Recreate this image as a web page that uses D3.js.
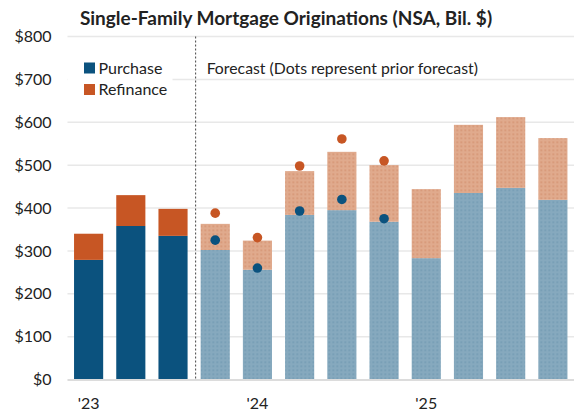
<!DOCTYPE html>
<meta charset="utf-8">
<script src="https://d3js.org/d3.v7.min.js"></script>
<style>
  body { margin: 0; background: #fff; }
  text { font-family: Lato, "Noto Sans", sans-serif; fill: #222; }
</style>
<body>
<div id="chart"></div>
<script>

// quarters, 2023 Q1 .. 2025 Q4
var quarters = ["23Q1","23Q2","23Q3","23Q4","24Q1","24Q2","24Q3","24Q4","25Q1","25Q2","25Q3","25Q4"];
var purchase = [279, 358, 335, 302, 256, 384, 395, 368, 283, 435, 447, 419];
var refinance = [61, 72, 63, 61, 68, 102, 136, 132, 161, 159, 165, 144];
var isForecast = [false, false, false, true, true, true, true, true, true, true, true, true];
// prior forecast (dots)
var priorPurchase = [null, null, null, 325, 260, 393, 420, 375, null, null, null, null];
var priorTotal = [null, null, null, 388, 331, 498, 561, 510, null, null, null, null];
var yearLabels = {"23Q1": "'23", "24Q1": "'24", "25Q1": "'25"};
var yTicks = [0, 100, 200, 300, 400, 500, 600, 700, 800];

var W = 581, H = 410;
var margin = {top: 36.5, right: 7, bottom: 30.5, left: 67.5};
var width = W - margin.left - margin.right,
    height = H - margin.top - margin.bottom;

var cBlue = "#0b527e", cOrange = "#c75624";

var svg = d3.select("#chart").append("svg")
    .attr("width", W)
    .attr("height", H);

// patterns for forecast bars
var defs = svg.append("defs");
function dotPattern(id, base, dot) {
  var p = defs.append("pattern")
      .attr("id", id)
      .attr("patternUnits", "userSpaceOnUse")
      .attr("width", 4).attr("height", 4);
  p.append("rect").attr("width", 4).attr("height", 4).attr("fill", base);
  p.append("rect").attr("x", 1).attr("y", 1).attr("width", 1.5).attr("height", 1.5).attr("fill", dot);
}
dotPattern("patBlue", "#86a9be", "#6f98b1");
dotPattern("patOrange", "#e0aa8d", "#d38f6d");

var g = svg.append("g")
    .attr("transform", "translate(" + margin.left + "," + margin.top + ")");

var x = d3.scaleBand()
    .domain(quarters)
    .range([0, width])
    .paddingInner(0.31)
    .paddingOuter(0.155);

var y = d3.scaleLinear()
    .domain([0, 800])
    .range([height, 0]);

// gridlines
g.append("g")
  .selectAll("line")
  .data(yTicks.filter(function(d) { return d > 0; }))
  .join("line")
    .attr("x1", 0).attr("x2", width)
    .attr("y1", function(d) { return y(d); })
    .attr("y2", function(d) { return y(d); })
    .attr("stroke", "#e8e8e8")
    .attr("stroke-width", 1.5);

// y labels
var yAxis = g.append("g")
    .call(d3.axisLeft(y).tickValues(yTicks).tickSize(0).tickPadding(16)
      .tickFormat(function(d) { return "$" + d; }));
yAxis.select(".domain").remove();
yAxis.selectAll("text")
    .style("font-size", "16px")
    .style("font-family", "Lato, sans-serif")
    .attr("fill", "#222");

// legend backdrop hides grid
g.append("rect")
    .attr("x", 0).attr("y", 20)
    .attr("width", 105).attr("height", 44)
    .attr("fill", "#fff");

// bars
var bars = g.append("g").selectAll("g")
  .data(quarters)
  .join("g");

bars.append("rect")
    .attr("x", function(d) { return x(d); })
    .attr("width", x.bandwidth())
    .attr("y", function(d, i) { return y(purchase[i]); })
    .attr("height", function(d, i) { return height - y(purchase[i]); })
    .attr("fill", function(d, i) { return isForecast[i] ? "url(#patBlue)" : cBlue; });

bars.append("rect")
    .attr("x", function(d) { return x(d); })
    .attr("width", x.bandwidth())
    .attr("y", function(d, i) { return y(purchase[i] + refinance[i]); })
    .attr("height", function(d, i) { return y(purchase[i]) - y(purchase[i] + refinance[i]); })
    .attr("fill", function(d, i) { return isForecast[i] ? "url(#patOrange)" : cOrange; });

// baseline
g.append("line")
    .attr("x1", 0).attr("x2", width)
    .attr("y1", height + 0.5).attr("y2", height + 0.5)
    .attr("stroke", "#dcdcdc")
    .attr("stroke-width", 2);

// forecast divider
var divX = (x(quarters[2]) + x.bandwidth() + x(quarters[3])) / 2 + 1.5;
g.append("line")
    .attr("x1", divX).attr("x2", divX)
    .attr("y1", 0).attr("y2", height)
    .attr("stroke", "#444")
    .attr("stroke-width", 1)
    .attr("stroke-dasharray", "2,2");

// prior forecast dots
g.append("g").selectAll("circle")
  .data(quarters.filter(function(d, i) { return priorTotal[i] != null; }))
  .join("circle")
    .attr("cx", function(d) { return x(d) + x.bandwidth() / 2; })
    .attr("cy", function(d) { return y(priorTotal[quarters.indexOf(d)]); })
    .attr("r", 4.8)
    .attr("fill", cOrange);

g.append("g").selectAll("circle")
  .data(quarters.filter(function(d, i) { return priorPurchase[i] != null; }))
  .join("circle")
    .attr("cx", function(d) { return x(d) + x.bandwidth() / 2; })
    .attr("cy", function(d) { return y(priorPurchase[quarters.indexOf(d)]); })
    .attr("r", 4.8)
    .attr("fill", cBlue);

// x labels
g.append("g").selectAll("text")
  .data(quarters.filter(function(d) { return yearLabels[d]; }))
  .join("text")
    .attr("x", function(d) { return x(d) + x.bandwidth() / 2; })
    .attr("y", height + 29)
    .attr("text-anchor", "middle")
    .style("font-size", "16px")
    .text(function(d) { return yearLabels[d]; });

// legend
var legend = [["Purchase", cBlue], ["Refinance", cOrange]];
legend.forEach(function(l, i) {
  g.append("rect")
      .attr("x", 16.5).attr("y", 26 + i * 21.5)
      .attr("width", 11).attr("height", 11)
      .attr("fill", l[1]);
  g.append("text")
      .attr("x", 31).attr("y", 31.5 + i * 21.5)
      .attr("dy", "0.35em")
      .style("font-size", "16px")
      .text(l[0]);
});

g.append("text")
    .attr("x", divX + 11).attr("y", 31.5)
    .attr("dy", "0.35em")
    .style("font-size", "15.8px")
    .text("Forecast (Dots represent prior forecast)");

// title
svg.append("text")
    .attr("x", 286).attr("y", 18)
    .attr("dy", "0.35em")
    .attr("text-anchor", "middle")
    .style("font-size", "19px")
    .style("font-weight", "bold")
    .attr("fill", "#111")
    .text("Single-Family Mortgage Originations (NSA, Bil. $)");

</script>
</body>
